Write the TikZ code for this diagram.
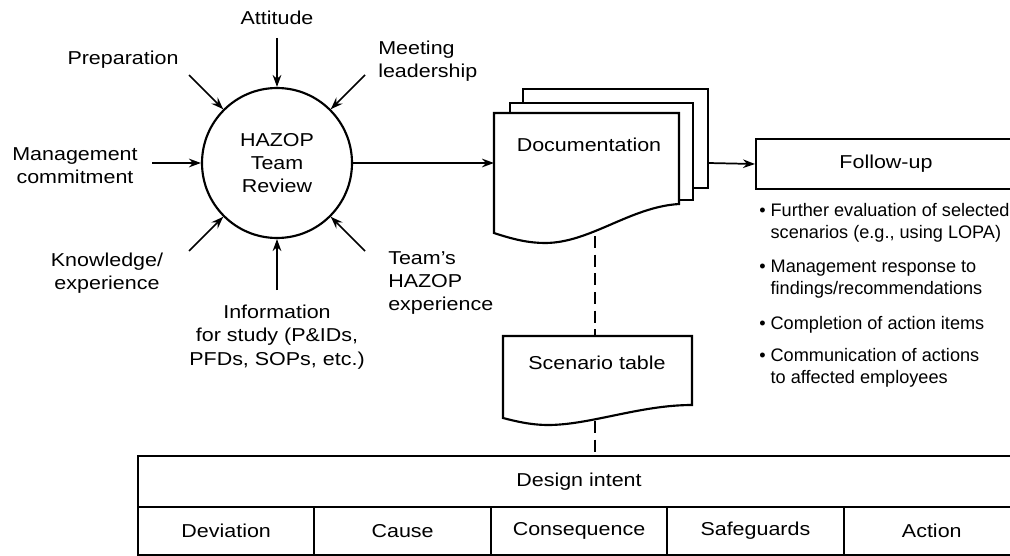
\documentclass[tikz,border=0pt]{standalone}
\usepackage{fontspec}
\setmainfont{Liberation Sans}[FakeStretch=1.15]
\newfontfamily\itemfont{Liberation Sans}
\usetikzlibrary{arrows.meta}

\begin{document}
\begin{tikzpicture}[x=0.75pt,y=-0.75pt,
  every node/.style={font=\fontsize{14}{17.5}\selectfont, inner sep=0pt},
  feed/.style={line width=1.3pt, -{Stealth[length=9pt,width=6.5pt]}},
  outline/.style={line width=1.6pt},
  page/.style={outline, fill=white},
  link/.style={line width=1.3pt, dash pattern=on 9pt off 5pt},
  cell/.style={draw, line width=1.5pt, anchor=north west, inner sep=0pt},
  item/.style={font=\itemfont\fontsize{13.6}{16.5}\selectfont, align=left, anchor=west},
]
\useasboundingbox (0,0) rectangle (1010,556);

% central review circle
\node[circle, draw, outline, minimum size=112.5pt, align=center] (hz) at (277,163)
  {HAZOP\\Team\\Review};

% influencing factors around the circle
\node (att) at (277,18) {Attitude};
\node (prep) at (123,60) {Preparation};
\node[align=left, anchor=west] (meet) at (378,61) {Meeting\\leadership};
\node[align=center] (mgmt) at (75,166) {Management\\commitment};
\node[align=center] (know) at (107,273) {Knowledge/\\experience};
\node[align=center] (info) at (277,337) {Information\\for study (P\&IDs,\\PFDs, SOPs, etc.)};
\node[align=left, anchor=west] (team) at (388,283) {Team's\\HAZOP\\experience};

\coordinate (tAtt)  at (277,38);
\coordinate (tPrep) at (189,75);
\coordinate (tMeet) at (365,75);
\coordinate (tMgmt) at (152,163);
\coordinate (tKnow) at (189,251);
\coordinate (tInfo) at (277,290);
\coordinate (tTeam) at (365,251);
\foreach \t in {tAtt,tPrep,tMeet,tMgmt,tKnow,tInfo,tTeam}
  \draw[feed] (\t) -- (hz);

% stacked documentation pages
\draw[page] (523,89) rectangle (708,188);
\draw[page] (510,103) rectangle (693,200);
\draw[page] (494,113) -- (679,113) -- (679,204)
  .. controls (630,207) and (590,243) .. (545,243)
  .. controls (530,243) and (515,240) .. (494,233) -- cycle;
\node (doc) at (589,145) {Documentation};
\coordinate (docIn)  at (494,163);
\coordinate (docOut) at (708,163);
\coordinate (docBot) at (595,236);
\draw[feed] (hz) -- (docIn);

% follow-up box and its activities
\node[draw, outline, minimum width=198.75pt, minimum height=37.5pt, anchor=west]
  (fu) at (755,164) {};
\node (fut) at (886,164) {Follow-up};
\draw[feed] (docOut) -- (fu.west);

\node[item] (b1) at (759,223) {• Further evaluation of selected\\\phantom{• }scenarios (e.g., using LOPA)};
\node[item] (b2) at (759,279) {• Management response to\\\phantom{• }findings/recommendations};
\node[item] (b3) at (759,325) {• Completion of action items};
\node[item] (b4) at (759,368) {• Communication of actions\\\phantom{• }to affected employees};

% scenario table sheet
\draw[page] (503,336) -- (692,336) -- (692,405)
  .. controls (640,405) and (590,425) .. (548,425)
  .. controls (535,425) and (522,423) .. (503,418) -- cycle;
\node (scen) at (597,363) {Scenario table};
\coordinate (scTop) at (595,336);
\coordinate (scBot) at (595,421);

% worksheet columns
\node[cell, minimum width=661.5pt, minimum height=38.25pt] (di) at (137,455) {Design intent};
\node[cell, minimum width=132.3pt, minimum height=36pt] (c1) at (137,506)   {Deviation};
\node[cell, minimum width=132.3pt, minimum height=36pt] (c2) at (313.4,506) {Cause};
\node[cell, minimum width=132.3pt, minimum height=36pt] (c3) at (489.8,506) {Consequence};
\node[cell, minimum width=132.3pt, minimum height=36pt] (c4) at (666.2,506) {Safeguards};
\node[cell, minimum width=132.3pt, minimum height=36pt] (c5) at (842.6,506) {Action};

% dashed links between documents
\draw[link] (docBot) -- (scTop);
\draw[link] (scBot) -- (scBot |- di.north);
\end{tikzpicture}
\end{document}
